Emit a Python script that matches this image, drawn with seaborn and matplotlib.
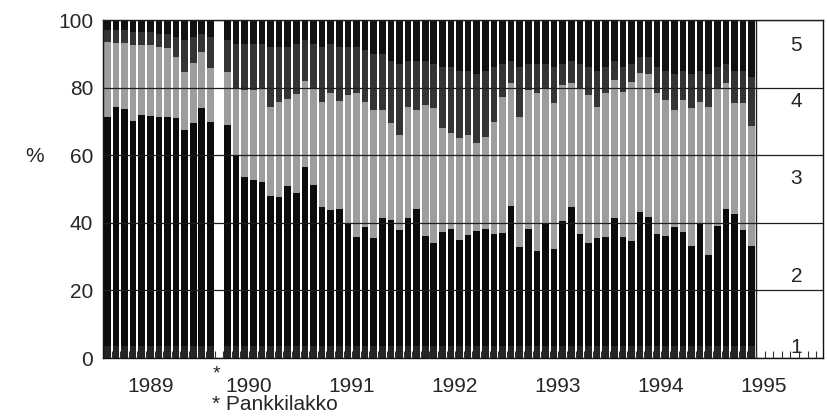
import matplotlib
matplotlib.use("Agg")
import matplotlib.pyplot as plt
import numpy as np
import pandas as pd
import seaborn as sns

# Monthly distribution (%) over five classes, Sep 1988 - Dec 1994.
# None marks the month with no data (bank strike).
categories = ["1", "2", "3", "4", "5"]
years = ["1989", "1990", "1991", "1992", "1993", "1994", "1995"]
strike_mark = "*"
strike_note = "* Pankkilakko"
y_unit = "%"

share_1 = [3.5, 3.5, 3.5, 3.5, 3.5, 3.5, 3.5, 3.5, 3.5, 3.5, 3.5, 3.5, 3.5, None,
           3.5, 3.5, 3.5, 3.5, 3.5, 3.5, 3.5, 3.5, 3.5, 3.5, 3.5, 3.5, 3.5, 3.5,
           3.5, 3.5, 3.5, 3.5, 3.5, 3.5, 3.5, 3.5, 3.5, 3.5, 3.5, 3.5, 3.5, 3.5,
           3.5, 3.5, 3.5, 3.5, 3.5, 3.5, 3.5, 3.5, 3.5, 3.5, 3.5, 3.5, 3.5, 3.5,
           3.5, 3.5, 3.5, 3.5, 3.5, 3.5, 3.5, 3.5, 3.5, 3.5, 3.5, 3.5, 3.5, 3.5,
           3.5, 3.5, 3.5, 3.5, 3.5, 3.5]
share_2 = [67.9, 70.7, 70.1, 66.7, 68.4, 68.1, 67.7, 67.7, 67.5, 64.1, 66.1, 70.4, 66.4, None,
           65.5, 56.5, 50.1, 49.2, 48.5, 44.5, 44.2, 47.4, 45.2, 53.1, 47.7, 41.3, 40.3, 40.6,
           36.3, 32.4, 35.3, 31.9, 37.8, 37.3, 34.4, 37.8, 40.5, 32.6, 30.6, 33.9, 34.6, 31.4,
           32.9, 34.2, 34.6, 33.1, 33.6, 41.5, 29.4, 34.7, 28.2, 36.0, 28.7, 37.0, 41.1, 33.1,
           30.6, 31.9, 32.2, 37.8, 32.4, 31.2, 39.8, 38.1, 33.2, 32.6, 35.3, 33.9, 29.6, 36.1,
           27.0, 35.6, 40.6, 39.0, 34.4, 29.6]
share_3 = [22.2, 18.9, 19.5, 22.4, 20.7, 21.0, 20.9, 20.4, 18.1, 17.1, 17.6, 16.7, 15.8, None,
           15.5, 19.8, 25.7, 26.6, 27.8, 26.4, 28.1, 25.6, 29.4, 25.4, 28.6, 31.0, 34.6, 32.0,
           38.0, 42.4, 37.0, 38.0, 32.1, 28.6, 28.1, 33.1, 29.4, 38.8, 39.8, 30.5, 28.4, 30.1,
           29.6, 25.8, 27.4, 33.3, 40.2, 36.3, 38.5, 41.1, 46.6, 40.3, 43.1, 40.3, 36.7, 43.2,
           43.7, 39.0, 42.6, 40.9, 42.9, 47.1, 41.1, 42.4, 41.6, 40.2, 34.6, 38.9, 40.8, 36.2,
           43.7, 40.7, 37.2, 33.0, 37.4, 35.5]
share_4 = [3.4, 3.9, 3.9, 3.9, 3.9, 3.9, 3.9, 4.4, 5.9, 9.3, 7.8, 5.4, 9.3, None,
           9.5, 13.2, 13.7, 13.7, 13.2, 17.6, 16.2, 15.5, 14.9, 12.0, 13.2, 16.2, 14.6, 15.9,
           14.2, 13.7, 15.2, 16.6, 16.6, 18.6, 21.0, 13.6, 14.6, 13.1, 13.1, 18.1, 19.5, 20.0,
           19.0, 20.5, 19.5, 16.1, 9.7, 6.7, 14.6, 7.7, 8.7, 7.2, 10.7, 6.2, 6.7, 7.2,
           8.2, 10.6, 7.7, 5.8, 7.2, 5.2, 4.6, 5.0, 7.7, 8.7, 10.6, 8.7, 10.1, 9.2,
           9.8, 6.2, 5.7, 9.5, 9.7, 14.4]
share_5 = [3.0, 3.0, 3.0, 3.5, 3.5, 3.5, 4.0, 4.0, 5.0, 6.0, 5.0, 4.0, 5.0, None,
           6.0, 7.0, 7.0, 7.0, 7.0, 8.0, 8.0, 8.0, 7.0, 6.0, 7.0, 8.0, 7.0, 8.0,
           8.0, 8.0, 9.0, 10.0, 10.0, 12.0, 13.0, 12.0, 12.0, 12.0, 13.0, 14.0, 14.0, 15.0,
           15.0, 16.0, 15.0, 14.0, 13.0, 12.0, 14.0, 13.0, 13.0, 13.0, 14.0, 13.0, 12.0, 13.0,
           14.0, 15.0, 14.0, 12.0, 14.0, 13.0, 11.0, 11.0, 14.0, 15.0, 16.0, 15.0, 16.0, 15.0,
           16.0, 14.0, 13.0, 15.0, 15.0, 17.0]

palette = {"1": "#242424", "2": "#0c0c0c", "3": "#9d9d9d", "4": "#343434", "5": "#111111"}

df = pd.DataFrame({"slot": np.arange(len(share_2)), "1": share_1, "2": share_2,
                   "3": share_3, "4": share_4, "5": share_5}).dropna()
cum = df[categories].astype(float).cumsum(axis=1)

sns.set_style("white")
plt.rcParams["font.family"] = ["Liberation Sans", "DejaVu Sans"]
plt.rcParams["font.size"] = 15

fig = plt.figure(figsize=(8.27, 4.17), dpi=100)
ax = fig.add_axes([103 / 827, 1 - 358 / 417, 720 / 827, 338 / 417])

# stacked bars: draw cumulative totals from the top class downwards
for cat in reversed(categories):
    sns.barplot(x=df["slot"], y=cum[cat], color=palette[cat], width=0.77,
                native_scale=True, errorbar=None, saturation=1, linewidth=0, ax=ax)

n_slots = len(share_2)
ax.set_xlim(-0.5, 83.3)
ax.set_ylim(0, 100)

# year labels near the start of each year
year_pos = [5.1] + [16.4 + 12 * k for k in range(len(years) - 1)]
ax.set_xticks(year_pos)
ax.set_xticklabels(years)
ax.set_xticks(np.arange(0.5, 83, 1.0), minor=True)
ax.tick_params(axis="x", which="major", length=0, pad=14, labelsize=15)
ax.tick_params(axis="x", which="minor", direction="in", length=5, width=0.8,
               color="#333333", bottom=True)
ax.set_yticks([0, 20, 40, 60, 80, 100])
ax.tick_params(axis="y", length=0, pad=7, labelsize=15)
ax.set_xlabel("")
ax.set_ylabel("")

ax.set_axisbelow(False)
ax.yaxis.grid(True, color="#1e1e1e", linewidth=0.9)
ax.xaxis.grid(False)
for sp in ax.spines.values():
    sp.set_visible(True)
    sp.set_color("#111111")
    sp.set_linewidth(1.0)

# separator between bars and the class key
ax.axvline(n_slots - 0.5, color="#222222", linewidth=1.0)

# class key on the right
key_x = 80.2
key_y = {"5": 92.5, "4": 76, "3": 53, "2": 24, "1": 3}
for cat in categories:
    ax.text(key_x, key_y[cat], cat, ha="center", va="center", fontsize=15)

fig.text(35 / 827, 1 - 157 / 417, y_unit, ha="center", va="center", fontsize=15)
fig.text(216 / 827, 1 - 374 / 417, strike_mark, ha="center", va="center", fontsize=14)
fig.text(212 / 827, 1 - 405 / 417, strike_note, ha="left", va="center", fontsize=15)

fig.savefig("out.png", dpi=100)
